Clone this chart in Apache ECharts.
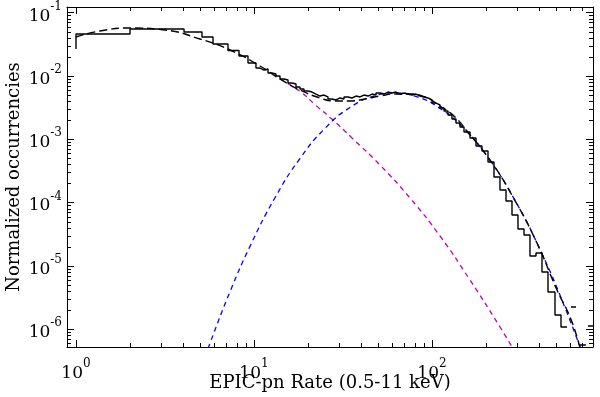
<!DOCTYPE html>
<html>
<head>
<meta charset="utf-8">
<style>
  html, body { margin: 0; padding: 0; background: #fff; }
  #chart { width: 600px; height: 397px; }
</style>
<script src="https://cdn.jsdelivr.net/npm/echarts@6/dist/echarts.min.js"></script>
</head>
<body>
<div id="chart"></div>
<script>
// histogram: bin edges (count s^-1) and normalized occurrences per bin (0 = empty bin)
const histEdges = [1.000, 2.011, 4.045, 5.104, 5.886, 7.144, 8.237, 9.254, 10.26,
  10.81, 11.38, 11.99, 12.62, 13.29, 14.00, 14.74, 15.53, 16.35, 17.22, 18.13, 19.09,
  20.11, 21.18, 22.30, 23.49, 24.73, 26.05, 27.43, 28.89, 30.42, 32.04, 33.74, 35.53,
  37.42, 39.41, 41.50, 43.71, 46.03, 48.47, 51.04, 53.76, 56.61, 59.62, 62.78, 66.12,
  69.63, 73.33, 77.22, 81.32, 85.64, 90.19, 94.96, 100.0, 105.3, 110.9, 116.8, 123.0,
  129.5, 136.4, 143.7, 151.3, 163.5, 176.7, 190.9, 206.4, 223.0, 241.0, 260.5, 281.5,
  304.2, 328.8, 355.3, 384.0, 415.0, 448.5, 491.0, 530.7, 573.5, 603.8, 644.2, 669.7,
  733.2, 752.4, 802.8];
const histValues = [0.04590, 0.05508, 0.04938, 0.04117, 0.03191, 0.02520, 0.02062, 0.01599,
  0.01332, 0.01239, 0.01285, 0.01111, 0.01072, 0.009964, 0.008934, 0.008616, 0.007723,
  0.007447, 0.006677, 0.006207, 0.005770, 0.005564, 0.005174, 0.004811, 0.004989,
  0.004642, 0.004316, 0.004162, 0.004476, 0.004316, 0.004642, 0.004476, 0.004811,
  0.004642, 0.004989, 0.004811, 0.005174, 0.004989, 0.005366, 0.005174, 0.005564,
  0.005366, 0.005564, 0.005174, 0.005366, 0.005174, 0.004989, 0.005174, 0.004811,
  0.004642, 0.004476, 0.004162, 0.003731, 0.003470, 0.003111, 0.002790, 0.002413,
  0.002085, 0.001803, 0.001559,
  0.001300, 0.001045, 7.807e-4, 6.510e-4, 4.364e-4, 2.528e-4, 1.576e-4, 1.056e-4,
  6.346e-5, 3.814e-5, 3.066e-5, 1.428e-5, 1.593e-5, 7.98e-6, 3.855e-6, 1.670e-6,
  1.079e-6, 0, 2.234e-6, 0, 5.608e-7, 0, 1.119e-6];
const histStart = 0.02661;

// total model (black dashed)
const totalX = [1.000, 1.364, 2.011, 3.162, 4.973, 7.333, 10.81, 14.00, 18.13, 23.49, 28.51,
  34.62, 42.03, 51.04, 61.97, 75.23, 91.34, 110.9, 134.6, 157.2, 211.8, 285.1, 388.9,
  503.8, 596.2, 678.5, 752.4];
const totalY = [0.0412, 0.0512, 0.0571, 0.0531, 0.0383, 0.02565, 0.01434, 0.008933, 0.005989,
  0.004477, 0.004014, 0.004014, 0.004316, 0.004815, 0.005177, 0.005177, 0.004642, 0.003346,
  0.002243, 0.001348, 4.69e-4, 1.221e-4, 2.292e-5, 4.147e-6, 1.553e-6, 5.214e-7, 2.0e-7];

// low-rate component (magenta dashed), visible part only (hidden under the total at low rates)
const magX = [14.00, 18.13, 22.30, 27.79, 35.53, 51.04, 75.23, 110.9, 163.5, 241.0, 292.6];
const magY = [0.008933, 0.00570, 0.00340, 0.00201, 0.001045, 3.912e-4, 1.178e-4, 2.957e-5,
  5.967e-6, 1.079e-6, 4.346e-7];

// high-rate component (blue dashed)
const blueX = [5.306, 5.659, 7.33, 9.495, 13.12, 18.13, 25.05, 34.62, 47.84, 61.16, 80.3,
  110.9, 153.3, 211.8, 292.6, 404.3, 558.7, 723.8];
const blueY = [3.62e-7, 5.99e-7, 3.88e-6, 2.025e-5, 1.187e-4, 4.955e-4, 1.481e-3, 3.168e-3,
  4.866e-3, 5.369e-3, 4.778e-3, 3.066e-3, 1.408e-3, 4.609e-4, 1.083e-4, 1.816e-5,
  2.186e-6, 3.145e-7];

const xMin = 0.8902, xMax = 802.8;
const yMin = 5.214e-7, yMax = 0.1226;
const minorSteps = [2, 3, 4, 5, 6, 7, 8, 9];
const xDecades = [1, 10, 100];
const yDecades = [1e-7, 1e-6, 1e-5, 1e-4, 1e-3, 1e-2, 1e-1];

const FONT = 'DejaVu Serif';

// step path of the histogram; empty bins break the line
const histLine = [[histEdges[0], histStart]];
histValues.forEach((v, i) => {
  if (v > 0) {
    histLine.push([histEdges[i], v], [histEdges[i + 1], v]);
  } else {
    histLine.push([histEdges[i], '-']);
  }
});

const zip = (xs, ys) => xs.map((x, i) => [x, ys[i]]);

const minorX = [];
xDecades.forEach(d => minorSteps.forEach(m => { if (d * m > xMin && d * m < xMax) minorX.push(d * m); }));
const minorY = [];
yDecades.forEach(d => minorSteps.forEach(m => { if (d * m > yMin && d * m < yMax) minorY.push(d * m); }));

function powLabel(value) {
  const e = Math.log10(value);
  if (Math.abs(e - Math.round(e)) > 1e-6) return '';
  return '{b|10}{s|' + Math.round(e) + '}';
}

const labelRich = {
  b: { fontFamily: FONT, fontSize: 17, color: '#000', lineHeight: 24, verticalAlign: 'bottom' },
  s: { fontFamily: FONT, fontSize: 12, color: '#000', lineHeight: 13, verticalAlign: 'top' }
};

function logAxis(min, max, extra) {
  return Object.assign({
    type: 'log',
    logBase: 10,
    min: min,
    max: max,
    splitLine: { show: false },
    axisLine: { show: true, lineStyle: { color: '#000', width: 1 } },
    axisTick: { show: true, inside: true, length: 7, lineStyle: { color: '#000', width: 1 } }
  }, extra);
}

function minorTicks(values, dim) {
  return {
    type: 'custom',
    silent: true,
    clip: false,
    z: 5,
    data: values.map(v => (dim === 'x' ? [v, 1e-3] : [1, v])),
    renderItem(params, api) {
      const cs = params.coordSys;
      const p = api.coord([api.value(0), api.value(1)]);
      const len = 4;
      let segs;
      if (dim === 'x') {
        const x = Math.round(p[0]) + 0.5;
        segs = [[x, cs.y + cs.height, x, cs.y + cs.height - len], [x, cs.y, x, cs.y + len]];
      } else {
        const y = Math.round(p[1]) + 0.5;
        segs = [[cs.x, y, cs.x + len, y], [cs.x + cs.width, y, cs.x + cs.width - len, y]];
      }
      return {
        type: 'group',
        children: segs.map(s => ({
          type: 'line',
          shape: { x1: s[0], y1: s[1], x2: s[2], y2: s[3] },
          style: { stroke: '#000', lineWidth: 1 }
        }))
      };
    }
  };
}

const chart = echarts.init(document.getElementById('chart'), null, { renderer: 'canvas' });

chart.setOption({
  animation: false,
  backgroundColor: '#fff',
  grid: { left: 67, right: 7, top: 7, bottom: 50, containLabel: false, outerBoundsMode: 'none' },
  xAxis: [
    logAxis(xMin, xMax, {
      position: 'bottom',
      name: 'EPIC-pn Rate (0.5-11 keV)',
      nameLocation: 'middle',
      nameGap: 27,
      nameMoveOverlap: false,
      nameTextStyle: { fontFamily: FONT, fontSize: 18, color: '#000' },
      axisLabel: { margin: 11, formatter: powLabel, rich: labelRich, showMinLabel: false, showMaxLabel: false }
    }),
    logAxis(xMin, xMax, { position: 'top', axisLabel: { show: false } })
  ],
  yAxis: [
    logAxis(yMin, yMax, {
      position: 'left',
      name: 'Normalized occurrencies',
      nameLocation: 'middle',
      nameRotate: 90,
      nameGap: 44,
      nameMoveOverlap: false,
      nameTextStyle: { fontFamily: FONT, fontSize: 18, color: '#000' },
      axisLabel: { margin: 5, formatter: powLabel, rich: labelRich, showMinLabel: false, showMaxLabel: false }
    }),
    logAxis(yMin, yMax, { position: 'right', axisLabel: { show: false } })
  ],
  series: [
    {
      name: 'low',
      type: 'line',
      data: zip(magX, magY),
      smooth: true,
      showSymbol: false,
      lineStyle: { color: '#bf00bf', width: 1.3, type: [5, 4] }
    },
    {
      name: 'high',
      type: 'line',
      data: zip(blueX, blueY),
      smooth: true,
      showSymbol: false,
      lineStyle: { color: '#0000ff', width: 1.3, type: [5, 4] }
    },
    {
      name: 'histogram',
      type: 'line',
      data: histLine,
      showSymbol: false,
      connectNulls: false,
      lineStyle: { color: '#000', width: 1.4 }
    },
    {
      name: 'total',
      type: 'line',
      data: zip(totalX, totalY),
      smooth: true,
      showSymbol: false,
      lineStyle: { color: '#000', width: 1.4, type: [8, 4] }
    },
    minorTicks(minorX, 'x'),
    minorTicks(minorY, 'y')
  ]
});
</script>
</body>
</html>
